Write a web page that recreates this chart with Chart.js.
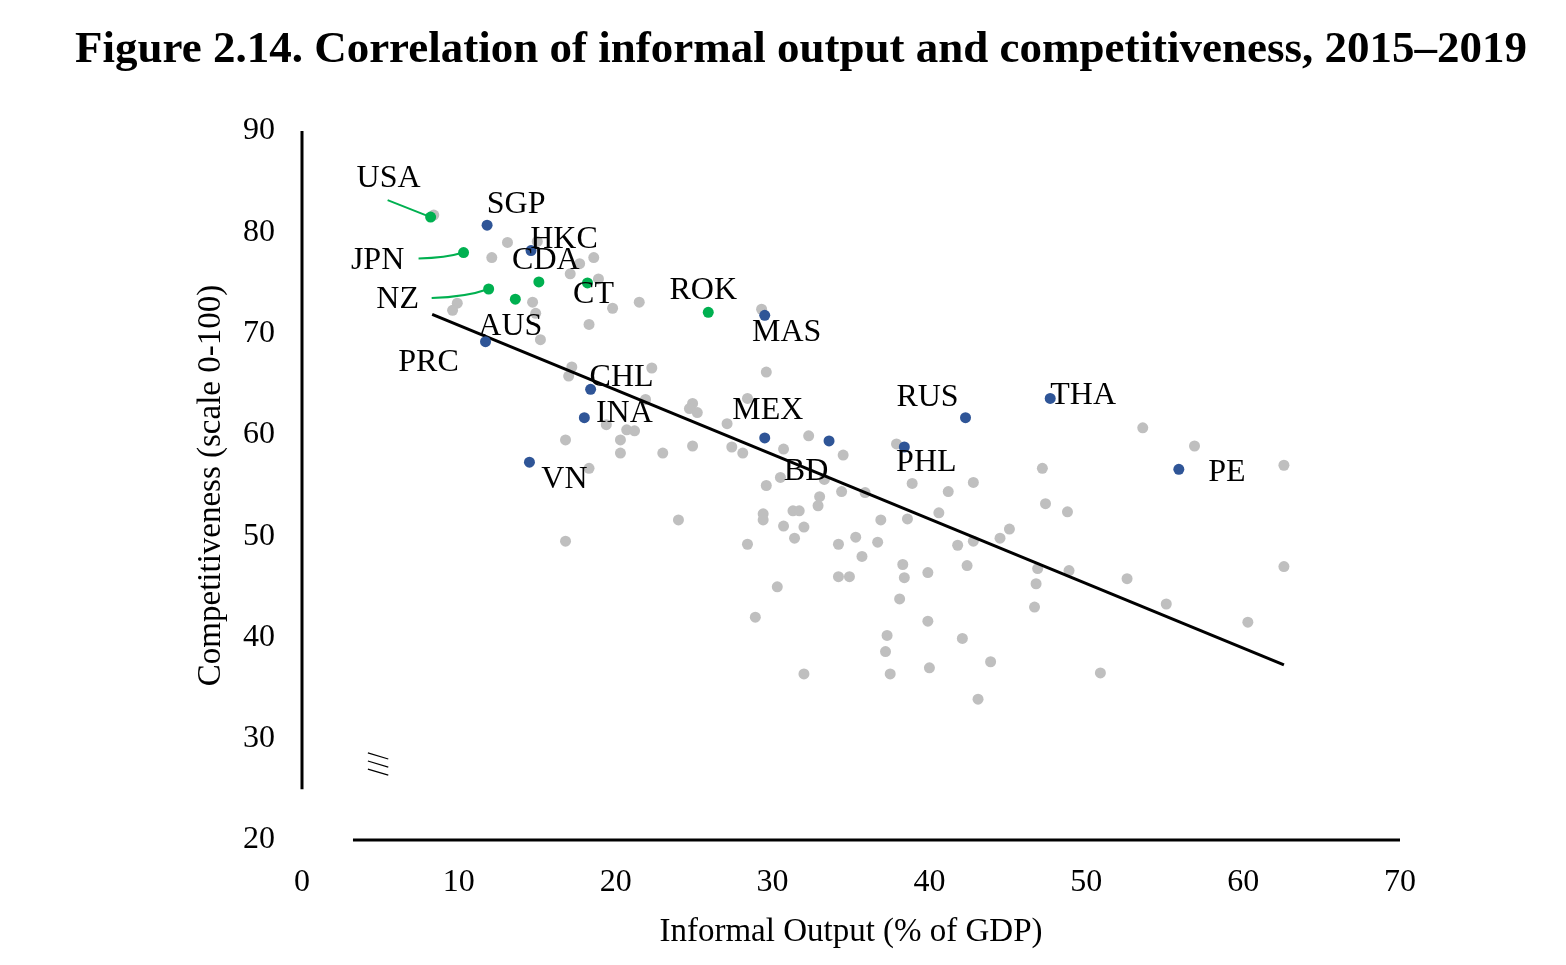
<!DOCTYPE html>
<html lang="en">
<head>
    <meta charset="UTF-8">
    <title>Figure 2.14. Correlation of informal output and competitiveness</title>
    <style>
        body { margin: 0; padding: 0; background: #fff; }
        .wrap { position: relative; width: 1566px; height: 965px; }
        h1 {
            position: absolute;
            top: 25px;
            left: 36px;
            width: 1530px;
            margin: 0;
            text-align: center;
            font-family: "Liberation Serif", "Times New Roman", serif;
            font-size: 45px;
            line-height: 45px;
            font-weight: bold;
            color: #000;
        }
        canvas { position: absolute; top: 0; left: 0; }
    </style>
</head>
<body>
    <div class="wrap">
        <canvas id="chart"></canvas>
        <h1>Figure 2.14. Correlation of informal output and competitiveness, 2015–2019</h1>
    </div>
    <script src="https://cdn.jsdelivr.net/npm/chart.js"></script>
    <script>
        // ---- data ----
        var xTicks = [0, 10, 20, 30, 40, 50, 60, 70];
        var yTicks = [20, 30, 40, 50, 60, 70, 80, 90];

        // advanced economies (green)
        var greenNames = ['USA', 'JPN', 'NZ', 'AUS', 'CDA', 'CT', 'ROK'];
        var greenX = [8.2, 10.3, 11.9, 13.6, 15.1, 18.2, 25.9];
        var greenY = [81.5, 78.0, 74.4, 73.4, 75.1, 75.0, 72.1];

        // highlighted economies (blue)
        var blueNames = ['SGP', 'HKC', 'PRC', 'CHL', 'INA', 'VN', 'MAS', 'MEX', 'BD', 'PHL', 'RUS', 'THA', 'PE'];
        var blueX = [11.8, 14.6, 11.7, 18.4, 18.0, 14.5, 29.5, 29.5, 33.6, 38.4, 42.3, 47.7, 55.9];
        var blueY = [80.7, 78.2, 69.2, 64.5, 61.7, 57.3, 71.8, 59.7, 59.4, 58.8, 61.7, 63.6, 56.6];

        // all other economies (grey)
        var grayX = [8.4, 13.1, 12.1, 15.0, 18.6, 17.7, 17.1, 18.9, 19.8, 21.5, 14.7, 14.9, 9.9, 9.6, 18.3, 15.2,
            17.2, 22.3, 17.0, 21.9, 24.9, 24.7, 25.2, 19.4, 20.7, 21.2, 16.8, 20.3, 20.3, 23.0, 24.9, 18.3, 24.0, 16.8,
            29.3, 29.6, 28.4, 27.1, 27.4, 28.1, 30.7, 32.3, 34.5, 37.9, 30.5, 29.6, 33.3, 34.4, 35.9, 38.9, 41.2, 42.8,
            47.2, 47.4, 48.8, 33.0, 32.9, 40.6, 36.9, 38.6, 29.4, 29.4, 31.3, 31.7, 30.7, 32.0, 28.4, 31.4, 34.2, 35.3,
            36.7, 35.7, 41.8, 42.8, 44.5, 45.1, 38.3, 42.4, 39.9, 38.4, 34.2, 34.9, 46.9,
            30.3, 28.9, 38.1, 39.9, 46.8, 46.7, 37.3, 37.2, 42.1, 43.9, 32.0, 37.5, 40.0, 43.1,
            53.6, 56.9, 62.6, 48.9, 52.6, 55.1, 60.3, 62.6, 50.9];
        var grayY = [81.7, 79.0, 77.5, 79.1, 77.5, 76.9, 75.9, 75.4, 72.5, 73.1, 73.1, 72.0, 73.0, 72.3, 70.9, 69.4,
            66.7, 66.6, 65.8, 63.5, 63.1, 62.6, 62.2, 61.0, 60.5, 60.4, 59.5, 59.5, 58.2, 58.2, 58.9, 56.7, 51.6, 49.5,
            72.4, 66.2, 63.6, 61.1, 58.8, 58.2, 58.6, 59.9, 58.0, 59.1, 55.8, 55.0, 55.6, 54.4, 54.3, 55.2, 54.4, 55.3,
            56.7, 53.2, 52.4, 53.9, 53.0, 52.3, 51.6, 51.7, 52.2, 51.6, 52.5, 52.5, 51.0, 50.9, 49.2, 49.8, 49.2, 49.9,
            49.4, 48.0, 49.1, 49.5, 49.8, 50.7, 47.2, 47.1, 46.4, 45.9, 46.0, 46.0, 46.8,
            45.0, 42.0, 43.8, 41.6, 45.3, 43.0, 40.2, 38.6, 39.9, 37.6, 36.4, 36.4, 37.0, 33.9,
            60.7, 58.9, 57.0, 46.6, 45.8, 43.3, 41.5, 47.0, 36.5];

        // fitted trend line end points
        var trendX = [8.3, 62.6];
        var trendY = [71.9, 37.3];

        // ---- layout / styling ----
        var serif = '"Liberation Serif", "Times New Roman", serif';
        var GREEN = '#00B050';
        var BLUE = '#2F5597';
        var GREY = '#BFBFBF';

        // label text centre, relative to its point (px)
        var labelOffset = {
            USA: [-42, -38], JPN: [-86, 8], NZ: [-91, 11], AUS: [-5, 27], CDA: [7, -21], CT: [6, 12], ROK: [-5, -22],
            SGP: [29, -21], HKC: [33, -11], PRC: [-57, 21], CHL: [31, -12], INA: [40, -4], VN: [35, 17],
            MAS: [22, 17], MEX: [3, -27], BD: [-23, 31], PHL: [22, 16], RUS: [-38, -20], THA: [33, -3], PE: [48, 3]
        };
        // leader lines: start relative to the data point (px), and whether it bends
        var leaders = { USA: [-43, -17, false], JPN: [-45, 6, true], NZ: [-57, 9, true] };

        function pts(xs, ys) {
            return xs.map(function (x, i) { return { x: x, y: ys[i] }; });
        }

        var axisPlugin = {
            id: 'brokenAxes',
            beforeDatasetsDraw: function (chart) {
                var ctx = chart.ctx, sx = chart.scales.x, sy = chart.scales.y;
                ctx.save();
                ctx.strokeStyle = '#000';
                ctx.lineWidth = 3;
                ctx.beginPath();
                ctx.moveTo(sx.getPixelForValue(3.25), sy.getPixelForValue(20));
                ctx.lineTo(sx.getPixelForValue(70), sy.getPixelForValue(20));
                ctx.moveTo(sx.getPixelForValue(0), sy.getPixelForValue(90));
                ctx.lineTo(sx.getPixelForValue(0), sy.getPixelForValue(25));
                ctx.stroke();
                // axis break marks
                ctx.lineWidth = 1.2;
                ctx.beginPath();
                [28.6, 27.8, 27.0].forEach(function (v) {
                    ctx.moveTo(sx.getPixelForValue(4.2), sy.getPixelForValue(v));
                    ctx.lineTo(sx.getPixelForValue(5.5), sy.getPixelForValue(v - 0.6));
                });
                ctx.stroke();
                ctx.restore();
            },
            afterDatasetsDraw: function (chart) {
                var ctx = chart.ctx;
                ctx.save();
                [[1, greenNames], [0, blueNames]].forEach(function (pair) {
                    var meta = chart.getDatasetMeta(pair[0]);
                    pair[1].forEach(function (name, i) {
                        var p = meta.data[i];
                        if (leaders[name]) {
                            var l = leaders[name];
                            ctx.strokeStyle = GREEN;
                            ctx.lineWidth = 2;
                            ctx.beginPath();
                            ctx.moveTo(p.x + l[0], p.y + l[1]);
                            if (l[2]) {
                                ctx.quadraticCurveTo(p.x + l[0] * 0.4, p.y + l[1] * 0.9, p.x, p.y);
                            } else {
                                ctx.lineTo(p.x, p.y);
                            }
                            ctx.stroke();
                        }
                        var o = labelOffset[name];
                        ctx.fillStyle = '#000';
                        ctx.font = '32px ' + serif;
                        ctx.textAlign = 'center';
                        ctx.textBaseline = 'middle';
                        ctx.fillText(name, p.x + o[0], p.y + o[1]);
                    });
                });
                ctx.restore();
            }
        };

        var ctx = document.getElementById('chart').getContext('2d');
        var myChart = new Chart(ctx, {
            type: 'scatter',
            data: {
                datasets: [
                    { label: 'Highlighted', data: pts(blueX, blueY), backgroundColor: BLUE, borderColor: BLUE,
                      pointRadius: 5.5, borderWidth: 0, order: 0 },
                    { label: 'Advanced', data: pts(greenX, greenY), backgroundColor: GREEN, borderColor: GREEN,
                      pointRadius: 5.5, borderWidth: 0, order: 1 },
                    { label: 'Trend', data: pts(trendX, trendY), showLine: true, borderColor: '#000',
                      borderWidth: 3, pointRadius: 0, order: 2 },
                    { label: 'Others', data: pts(grayX, grayY), backgroundColor: GREY, borderColor: GREY,
                      pointRadius: 5.5, borderWidth: 0, order: 3 }
                ]
            },
            options: {
                responsive: true,
                maintainAspectRatio: false,
                animation: false,
                layout: { padding: { top: 131, right: 166, left: 0, bottom: 0 } },
                plugins: {
                    legend: { display: false },
                    tooltip: { enabled: false },
                    title: { display: false }
                },
                scales: {
                    x: {
                        type: 'linear',
                        min: 0, max: 70,
                        grid: { display: false, drawTicks: false },
                        border: { display: false },
                        afterBuildTicks: function (s) { s.ticks = xTicks.map(function (v) { return { value: v }; }); },
                        afterFit: function (s) { s.height = 125; },
                        ticks: { color: '#000', padding: 23, font: { family: serif, size: 32 } },
                        title: {
                            display: true,
                            text: 'Informal Output (% of GDP)',
                            color: '#000',
                            font: { family: serif, size: 33 },
                            padding: { top: 0, bottom: 13 }
                        }
                    },
                    y: {
                        type: 'linear',
                        min: 20, max: 90,
                        grid: { display: false, drawTicks: false },
                        border: { display: false },
                        afterBuildTicks: function (s) { s.ticks = yTicks.map(function (v) { return { value: v }; }); },
                        afterFit: function (s) { s.width = 302; },
                        ticks: { color: '#000', padding: 27, font: { family: serif, size: 32 } },
                        title: {
                            display: true,
                            text: 'Competitiveness (scale 0-100)',
                            color: '#000',
                            font: { family: serif, size: 33 },
                            padding: { top: 192, bottom: 0 }
                        }
                    }
                }
            },
            plugins: [axisPlugin]
        });
    </script>
</body>
</html>
